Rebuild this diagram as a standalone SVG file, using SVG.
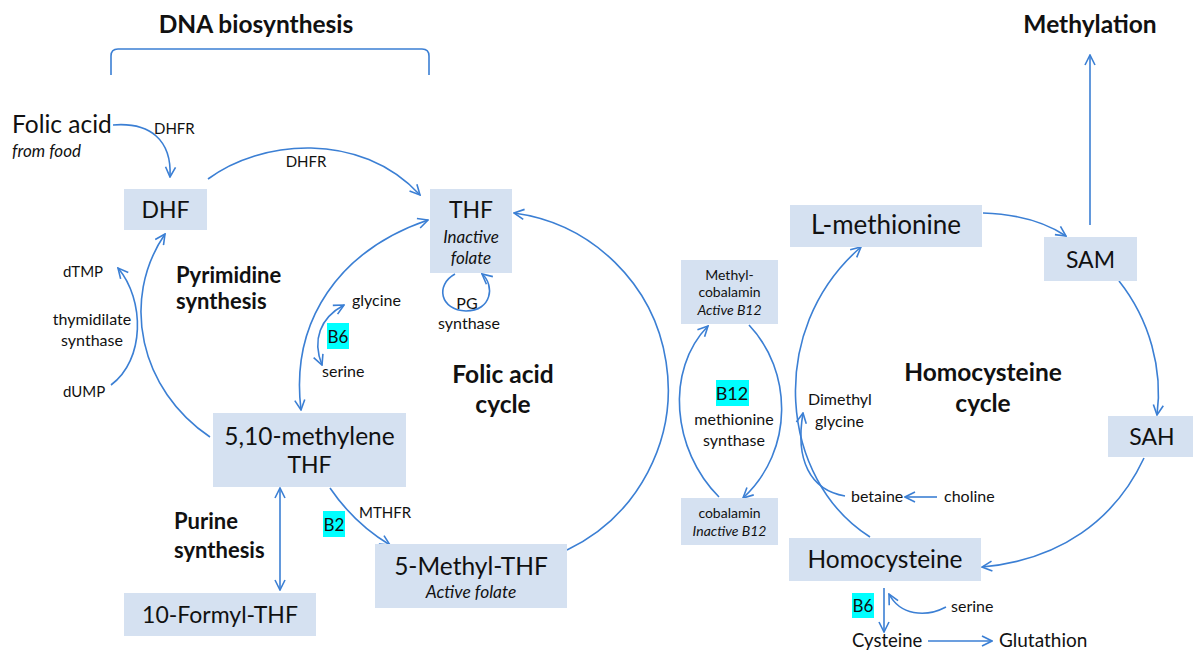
<svg xmlns="http://www.w3.org/2000/svg" width="1193" height="653" viewBox="0 0 1193 653">
<style>
text{font-family:Lato,"Liberation Sans",sans-serif;fill:#111}
.box{fill:#d5e1f1}
.big{font-size:23px}
.bigl{font-size:24.5px}
.sm{font-size:16px}
.ab{font-size:15px}
.xs{font-size:14px}
.it{font-style:italic}
.bold{font-weight:bold;font-size:24.5px}
.bold2{font-weight:bold;font-size:22px}
.hl{fill:#00ffff}
.c{stroke:#3b7fd4;stroke-width:1.6;fill:none}
.a{marker-end:url(#ah)}
.d{marker-start:url(#ah);marker-end:url(#ah)}
</style>
<defs>
<marker id="ah" viewBox="0 0 12 12" refX="11" refY="6" markerWidth="12" markerHeight="12" markerUnits="userSpaceOnUse" orient="auto-start-reverse">
<path d="M1,1 L11,6 L1,11" fill="none" stroke="#3b7fd4" stroke-width="1.6"/>
</marker>
</defs>
<g id="connectors">
<path class="c" d="M111,75 L111,56 Q111,49 118,49 L422,49 Q429,49 429,56 L429,75"/>
<path class="c a" d="M113,125 C150,122 172,140 170,177"/>
<path class="c a" d="M208,179 C260,140 360,130 420,195"/>
<path class="c a" d="M111,385 C145,360 145,300 118,268"/>
<path class="c a" d="M210,437 C140,390 120,300 165,234"/>
<path class="c d" d="M301,410 C290,320 340,250 428,220"/>
<path class="c d" d="M322,365 C312,340 320,318 344,305"/>
<path class="c a" d="M455,274 C435,285 440,310 466,311 C492,311 495,285 482,274"/>
<path class="c a" d="M567,550 A178,178 0 0 0 514,213"/>
<path class="c a" d="M330,488 C345,510 365,530 390,545"/>
<path class="c d" d="M280,488 L280,590"/>
<path class="c a" d="M719,497 C672,450 665,370 708,326"/>
<path class="c a" d="M749,325 C792,370 795,450 743,498"/>
<path class="c a" d="M870,537 C780,480 765,330 861,247"/>
<path class="c a" d="M845,496 C810,490 795,460 803,413"/>
<path class="c a" d="M937,497 L905,497"/>
<path class="c a" d="M983,213 C1015,214 1045,222 1066,236"/>
<path class="c a" d="M1090,225 L1090,55"/>
<path class="c a" d="M1119,281 C1150,320 1163,370 1157,415"/>
<path class="c a" d="M1144,458 C1115,520 1060,560 982,567"/>
<path class="c a" d="M884,588 L884,632"/>
<path class="c a" d="M946,607 C925,618 900,615 889,594"/>
<path class="c a" d="M928,641 L992,641"/>
</g>
<g id="labels">
<text class="bold" x="256" y="33" text-anchor="middle">DNA biosynthesis</text>
<text class="bold" x="1090" y="33" text-anchor="middle">Methylation</text>
<text class="bigl" x="12" y="133">Folic acid</text>
<text class="it" x="12" y="157" style="font-size:17px">from food</text>
<text class="ab" x="154" y="134">DHFR</text>
<text class="ab" x="306" y="167" text-anchor="middle">DHFR</text>
<text class="ab" x="63" y="277">dTMP</text>
<text class="sm" x="92" y="325" text-anchor="middle">thymidilate</text>
<text class="sm" x="92" y="346" text-anchor="middle">synthase</text>
<text class="ab" x="63" y="397">dUMP</text>
<text class="bold2" x="176" y="283">Pyrimidine</text>
<text class="bold2" x="176" y="309">synthesis</text>
<text class="sm" x="352" y="306">glycine</text>
<text class="sm" x="322" y="377">serine</text>
<rect class="hl" x="327" y="323" width="22" height="26"/>
<text x="338" y="343" font-size="17" text-anchor="middle">B6</text>
<text class="sm" x="467" y="309" text-anchor="middle">PG</text>
<text class="sm" x="469" y="329" text-anchor="middle">synthase</text>
<text class="bold" x="503" y="383" text-anchor="middle">Folic acid</text>
<text class="bold" x="503" y="413" text-anchor="middle">cycle</text>
<text class="bold2" x="174" y="529">Purine</text>
<text class="bold2" x="174" y="558">synthesis</text>
<text class="ab" x="359" y="518">MTHFR</text>
<rect class="hl" x="323" y="511" width="22" height="26"/>
<text x="334" y="531" font-size="17" text-anchor="middle">B2</text>
<rect class="hl" x="716" y="380" width="33" height="26"/>
<text x="732" y="400" font-size="18" text-anchor="middle">B12</text>
<text class="sm" x="734" y="425" text-anchor="middle">methionine</text>
<text class="sm" x="734" y="446" text-anchor="middle">synthase</text>
<text class="sm" x="808" y="405">Dimethyl</text>
<text class="sm" x="815" y="427">glycine</text>
<text class="sm" x="851" y="502">betaine</text>
<text class="sm" x="944" y="502">choline</text>
<text class="bold" x="983" y="381" text-anchor="middle">Homocysteine</text>
<text class="bold" x="983" y="412" text-anchor="middle">cycle</text>
<rect class="hl" x="852" y="593" width="22" height="25"/>
<text x="863" y="612" font-size="17" text-anchor="middle">B6</text>
<text class="sm" x="951" y="612">serine</text>
<text x="852" y="647" style="font-size:18.5px">Cysteine</text>
<text x="999" y="647" style="font-size:19px">Glutathion</text>
</g>
<g id="node-dhf"><rect class="box" x="124" y="189" width="83" height="41"/><text class="big" x="165.5" y="218" text-anchor="middle">DHF</text></g>
<g id="node-thf"><rect class="box" x="430" y="189" width="82" height="84"/><text class="big" x="471" y="218" text-anchor="middle">THF</text><text class="it" x="471" y="243" text-anchor="middle" style="font-size:17px">Inactive</text><text class="it" x="471" y="264" text-anchor="middle" style="font-size:17px">folate</text></g>
<g id="node-methylene"><rect class="box" x="213" y="413" width="193" height="74"/><text class="bigl" x="309.5" y="445" text-anchor="middle">5,10-methylene</text><text class="big" x="309.5" y="473" text-anchor="middle">THF</text></g>
<g id="node-formyl"><rect class="box" x="124" y="593" width="192" height="43"/><text class="big" x="220" y="623" text-anchor="middle">10-Formyl-THF</text></g>
<g id="node-methylthf"><rect class="box" x="375" y="544" width="192" height="64"/><text class="bigl" x="471" y="575" text-anchor="middle">5-Methyl-THF</text><text class="it" x="471" y="598" text-anchor="middle" style="font-size:17.4px">Active folate</text></g>
<g id="node-methylcobalamin"><rect class="box" x="681" y="260" width="97" height="64"/><text class="xs" x="729.5" y="280" text-anchor="middle">Methyl-</text><text class="xs" x="729.5" y="297" text-anchor="middle">cobalamin</text><text class="xs it" x="729.5" y="315" text-anchor="middle">Active B12</text></g>
<g id="node-cobalamin"><rect class="box" x="681" y="498" width="97" height="47"/><text class="xs" x="729.5" y="518" text-anchor="middle">cobalamin</text><text class="xs it" x="729.5" y="536" text-anchor="middle">Inactive B12</text></g>
<g id="node-lmethionine"><rect class="box" x="790" y="205" width="192" height="42"/><text x="886" y="234" text-anchor="middle" style="font-size:26px">L-methionine</text></g>
<g id="node-sam"><rect class="box" x="1044" y="237" width="93" height="44"/><text class="big" x="1090.5" y="268" text-anchor="middle">SAM</text></g>
<g id="node-sah"><rect class="box" x="1108" y="416" width="85" height="41"/><text class="big" x="1152" y="445" text-anchor="middle">SAH</text></g>
<g id="node-homocysteine"><rect class="box" x="789" y="538" width="192" height="43"/><text class="bigl" x="885" y="568" text-anchor="middle">Homocysteine</text></g>
</svg>
